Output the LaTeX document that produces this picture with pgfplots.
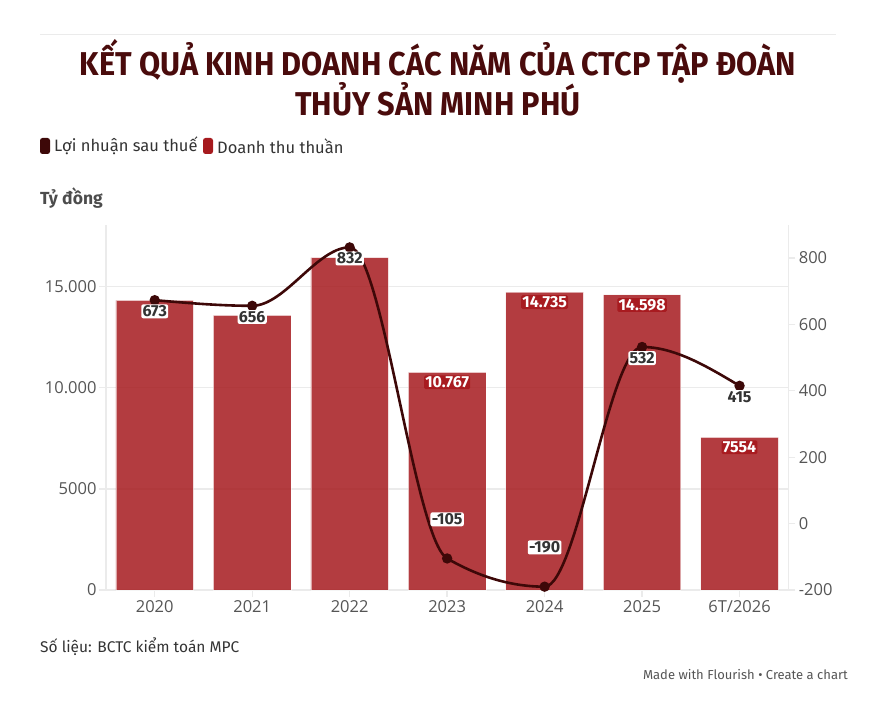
\documentclass[border=0pt]{standalone}
\usepackage{pgfplots}
\pgfplotsset{compat=1.18}
\usepackage{fontspec}
\setmainfont{Fira Sans}
\newfontfamily\titlefont[FakeStretch=0.93]{Fira Sans}
\newfontfamily\tickfont{Open Sans}
\definecolor{titlecol}{RGB}{74,11,12}
\definecolor{linecol}{RGB}{61,8,8}
\definecolor{barcol}{RGB}{166,26,30}
\definecolor{labred}{RGB}{168,27,32}
\definecolor{gridc}{HTML}{EBEBEB}
\definecolor{tickc}{HTML}{555555}
\definecolor{txtc}{HTML}{333333}

\makeatletter
% monotone-x cubic interpolation (as d3.curveMonotoneX) as a pgf plot handler
\newcount\mono@n
\newcount\mono@i
\newcount\mono@j
\newcount\mono@k
\def\mono@get#1#2{\csname mono@#1\number#2\endcsname}
\def\mono@set#1#2#3{\expandafter\xdef\csname mono@#1\number#2\endcsname{#3}}
\def\pgfplothandlermonotonex{%
  \def\pgf@plotstreamstart{%
    \global\let\pgf@plotstreampoint=\mono@point
    \global\let\pgf@plotstreamspecial=\pgfutil@gobble
    \global\let\pgf@plotstreamend=\mono@end
    \global\mono@n=0
  }%
}
\def\mono@point#1{%
  \pgf@process{#1}%
  \mono@set{x}{\mono@n}{\pgf@sys@tonumber\pgf@x}%
  \mono@set{y}{\mono@n}{\pgf@sys@tonumber\pgf@y}%
  \global\advance\mono@n by 1
}
\def\mono@end{%
  \ifnum\mono@n>1\relax
    \mono@compute
  \fi
}
\def\mono@compute{%
  \mono@segments
  \ifnum\mono@n>2\relax
    \mono@tangents
    \mono@ends
  \else
    \mono@set{t}{0}{\mono@get{s}{0}}%
    \mono@set{t}{1}{\mono@get{s}{0}}%
  \fi
  \mono@draw
}
\def\mono@segments{%
  \mono@i=0
  \loop
    \mono@j=\mono@i \advance\mono@j by 1
    \pgfmathsetmacro\mono@h{\mono@get{x}{\mono@j}-(\mono@get{x}{\mono@i})}%
    \pgfmathsetmacro\mono@s{(\mono@get{y}{\mono@j}-(\mono@get{y}{\mono@i}))/\mono@h}%
    \mono@set{h}{\mono@i}{\mono@h}%
    \mono@set{s}{\mono@i}{\mono@s}%
    \advance\mono@i by 1
    \mono@j=\mono@i \advance\mono@j by 1
  \ifnum\mono@j<\mono@n
  \repeat
}
\def\mono@tangents{%
  \mono@i=1
  \loop
  \ifnum\mono@i<\numexpr\mono@n-1\relax
    \mono@k=\mono@i \advance\mono@k by -1
    \edef\mono@sa{\mono@get{s}{\mono@k}}%
    \edef\mono@sb{\mono@get{s}{\mono@i}}%
    \edef\mono@ha{\mono@get{h}{\mono@k}}%
    \edef\mono@hb{\mono@get{h}{\mono@i}}%
    \pgfmathsetmacro\mono@p{((\mono@sa)*(\mono@hb)+(\mono@sb)*(\mono@ha))/((\mono@ha)+(\mono@hb))}%
    \pgfmathsetmacro\mono@sga{(\mono@sa)<0?-1:1}%
    \pgfmathsetmacro\mono@sgb{(\mono@sb)<0?-1:1}%
    \pgfmathsetmacro\mono@t{((\mono@sga)+(\mono@sgb))*min(abs(\mono@sa),abs(\mono@sb),0.5*abs(\mono@p))}%
    \mono@set{t}{\mono@i}{\mono@t}%
    \advance\mono@i by 1
  \repeat
}
\def\mono@ends{%
  \pgfmathsetmacro\mono@t{(3*(\mono@get{s}{0})-(\mono@get{t}{1}))/2}%
  \mono@set{t}{0}{\mono@t}%
  \mono@k=\mono@n \advance\mono@k by -1
  \mono@j=\mono@n \advance\mono@j by -2
  \pgfmathsetmacro\mono@t{(3*(\mono@get{s}{\mono@j})-(\mono@get{t}{\mono@j}))/2}%
  \mono@set{t}{\mono@k}{\mono@t}%
}
\def\mono@draw{%
  \pgfpathmoveto{\pgfqpoint{\mono@get{x}{0}pt}{\mono@get{y}{0}pt}}%
  \mono@i=0
  \loop
  \ifnum\mono@i<\numexpr\mono@n-1\relax
    \mono@j=\mono@i \advance\mono@j by 1
    \pgfmathsetmacro\mono@dx{(\mono@get{h}{\mono@i})/3}%
    \pgfmathsetmacro\mono@ax{\mono@get{x}{\mono@i}+\mono@dx}%
    \pgfmathsetmacro\mono@ay{\mono@get{y}{\mono@i}+\mono@dx*(\mono@get{t}{\mono@i})}%
    \pgfmathsetmacro\mono@bx{\mono@get{x}{\mono@j}-\mono@dx}%
    \pgfmathsetmacro\mono@by{\mono@get{y}{\mono@j}-\mono@dx*(\mono@get{t}{\mono@j})}%
    \edef\mono@cx{\mono@get{x}{\mono@j}}%
    \edef\mono@cy{\mono@get{y}{\mono@j}}%
    \pgfpathcurveto{\pgfqpoint{\mono@ax pt}{\mono@ay pt}}{\pgfqpoint{\mono@bx pt}{\mono@by pt}}{\pgfqpoint{\mono@cx pt}{\mono@cy pt}}%
    \advance\mono@i by 1
  \repeat
}
\tikzset{monotone x/.code={\let\tikz@plot@handler=\pgfplothandlermonotonex}}
\makeatother

\begin{document}
\begin{tikzpicture}[x=1pt,y=1pt]
\path[use as bounding box] (0,0) rectangle (886,709);
% top rule
\draw[gridc, line width=1pt] (40,674) -- (836,674);
% title
\node[text=titlecol, font=\titlefont\bfseries\fontsize{33}{38}\selectfont] at (438,648) {KẾT QUẢ KINH DOANH CÁC NĂM CỦA CTCP TẬP ĐOÀN};
\node[text=titlecol, font=\titlefont\bfseries\fontsize{33}{38}\selectfont] at (438,610) {THỦY SẢN MINH PHÚ};
% legend
\fill[linecol, rounded corners=2.5pt] (40,555) rectangle (50,571);
\node[anchor=west, inner sep=0pt, text=txtc, font=\fontsize{16.5}{19}\selectfont] at (54,563) {Lợi nhuận sau thuế};
\fill[barcol, rounded corners=2.5pt] (203,555) rectangle (213,571);
\node[anchor=west, inner sep=0pt, text=txtc, font=\fontsize{16.5}{19}\selectfont] at (217,563) {Doanh thu thuần};
% unit
\node[anchor=west, inner sep=0pt, text=tickc!90!black, font=\bfseries\fontsize{17.5}{20}\selectfont] at (40,511) {Tỷ đồng};
% source
\node[anchor=west, inner sep=0pt, text=txtc, font=\fontsize{15.5}{18}\selectfont] at (40,62) {Số liệu: BCTC kiểm toán MPC};
\node[anchor=east, inner sep=0pt, text=tickc, font=\fontsize{13}{15}\selectfont] at (848,34) {Made with Flourish • Create a chart};

\begin{axis}[
  at={(106pt,119pt)}, anchor=south west, scale only axis,
  width=682.3pt, height=365pt,
  xmin=-0.5, xmax=6.5, ymin=0, ymax=18051,
  scaled y ticks=false,
  axis x line*=bottom, axis y line*=left,
  axis line style={draw=gridc, line width=1.3pt},
  xtick={0,1,2,3,4,5,6},
  xticklabels={2020,2021,2022,2023,2024,2025,6T/2026},
  ytick={0,5000,10000,15000},
  yticklabels={0,5000,10.000,15.000},
  ymajorgrids, grid style={draw=gridc, line width=1.3pt},
  tick align=outside, major tick length=7pt,
  tick style={draw=gridc, line width=1.3pt},
  ticklabel style={font=\tickfont\fontsize{16.5}{19}\selectfont, text=tickc},
  yticklabel style={xshift=1pt},
  clip=false,
]
\addplot[ybar, bar width=77.5pt, bar shift=0pt, fill=barcol, fill opacity=0.85, draw=white, draw opacity=0.55, line width=0.8pt]
  coordinates {(0,14327) (1,13585) (2,16434) (3,10767) (4,14735) (5,14598) (6,7554)};
\addplot[draw=none, mark=none, nodes near coords, point meta=explicit symbolic,
  every node near coord/.style={anchor=north, yshift=-3pt, fill=labred, text=white, rounded corners=1.5pt, inner sep=1.2pt, font=\bfseries\fontsize{16}{18}\selectfont}]
  coordinates {(3,10767) [10.767] (4,14735) [14.735] (5,14598) [14.598] (6,7554) [7554]};
\end{axis}

\begin{axis}[
  at={(106pt,119pt)}, anchor=south west, scale only axis,
  width=682.3pt, height=365pt,
  xmin=-0.5, xmax=6.5, ymin=-200, ymax=899.4,
  axis x line=none, axis y line*=right,
  axis line style={draw=gridc, line width=1.3pt},
  ytick={-200,0,200,400,600,800},
  yticklabels={-200,0,200,400,600,800},
  tick align=outside, major tick length=7pt,
  tick style={draw=gridc, line width=1.3pt},
  ticklabel style={font=\tickfont\fontsize{16.5}{19}\selectfont, text=tickc},
  clip=false,
]
\addplot[linecol, line width=2.6pt, monotone x, mark=*, mark size=3.8pt, mark options={fill=linecol, draw=none}]
  coordinates {(0,673) (1,656) (2,832) (3,-105) (4,-190) (5,532) (6,415)};
\addplot[draw=none, mark=none, nodes near coords, point meta=explicit symbolic,
  every node near coord/.style={anchor=north, yshift=-4pt, fill=white, rounded corners=2pt, inner sep=1.3pt, text=txtc, font=\bfseries\fontsize{16}{18}\selectfont}]
  coordinates {(0,673) [673] (1,656) [656] (2,832) [832] (5,532) [532] (6,415) [415]};
\addplot[draw=none, mark=none, nodes near coords, point meta=explicit symbolic,
  every node near coord/.style={anchor=south, yshift=32pt, fill=white, rounded corners=2pt, inner sep=1.3pt, text=txtc, font=\bfseries\fontsize{16}{18}\selectfont}]
  coordinates {(3,-105) [-105] (4,-190) [-190]};
\end{axis}
\end{tikzpicture}
\end{document}
